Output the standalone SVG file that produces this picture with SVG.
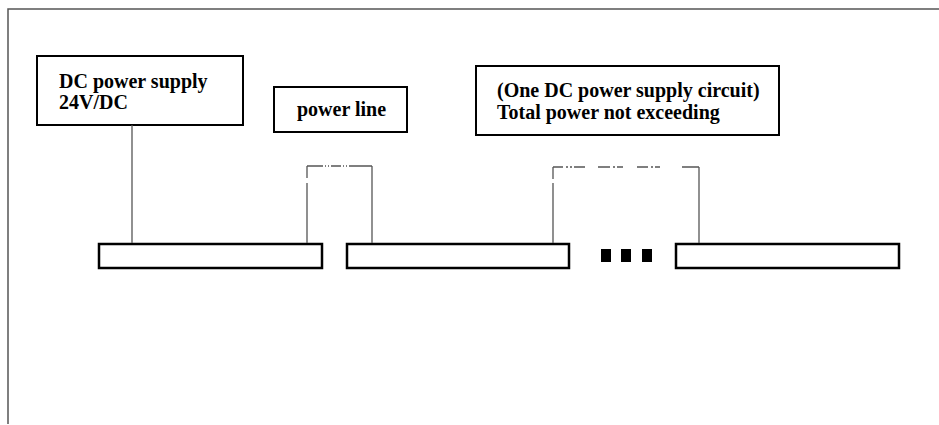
<svg xmlns="http://www.w3.org/2000/svg" width="939" height="425" viewBox="0 0 939 425">
<style>
.frame{fill:none;stroke:#555;stroke-width:1.5}
.box{fill:#fff;stroke:#000;stroke-width:2}
.bar{fill:#fff;stroke:#000;stroke-width:2.5}
.lbl{font-family:"Liberation Serif","Times New Roman",serif;font-weight:bold;font-size:20px;fill:#000}
.wire{fill:none;stroke:#555;stroke-width:1.3}
.sq{fill:#000}
</style>
<rect width="939" height="425" fill="#fff"/>
<path class="frame" d="M8 424 V9 H939"/>
<g id="dc-supply">
<rect class="box" x="37" y="56" width="206" height="69"/>
<text class="lbl" x="59" y="88">DC power supply</text>
<text class="lbl" x="59" y="109">24V/DC</text>
</g>
<g id="power-line">
<rect class="box" x="274" y="87" width="133" height="45"/>
<text class="lbl" x="297" y="116">power line</text>
</g>
<g id="total-power">
<rect class="box" x="476" y="66" width="303" height="69"/>
<text class="lbl" x="497" y="97">(One DC power supply circuit)</text>
<text class="lbl" x="497" y="119">Total power not exceeding</text>
</g>
<g id="bar1"><rect class="bar" x="99" y="244" width="223" height="24"/></g>
<g id="bar2"><rect class="bar" x="347" y="244" width="222" height="24"/></g>
<g id="ellipsis">
<rect class="sq" x="601" y="249" width="10" height="13"/>
<rect class="sq" x="621" y="249" width="10" height="13"/>
<rect class="sq" x="642" y="249" width="10" height="13"/>
</g>
<g id="bar3"><rect class="bar" x="676" y="244" width="223" height="24"/></g>
<g id="connectors">
<path class="wire" d="M132 125 V243"/>
<path class="wire" d="M307 243 V166" stroke-dasharray="60 5 20"/>
<path class="wire" d="M307 166 H372" stroke-dasharray="16 2 1 2 1 2 10 2 1 2 1 2 23"/>
<path class="wire" d="M372 166 V243"/>
<path class="wire" d="M553 243 V167" stroke-dasharray="60 4 20"/>
<path class="wire" d="M553 167 H563 M566 167 H568 M570 167 H572 M574 167 H585 M598 167 H610 M613 167 H615 M617 167 H623 M637 167 H648 M651 167 H653 M655 167 H660 M682 167 H699"/>
<path class="wire" d="M699 167 V243"/>
</g>
</svg>
